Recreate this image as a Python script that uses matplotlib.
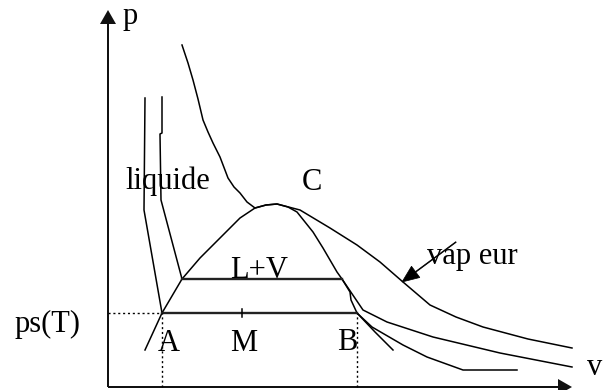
import matplotlib
matplotlib.use("Agg")
import matplotlib.pyplot as plt
import numpy as np

# ---- data (schematic p-v diagram, arbitrary units) ----
dome_v = [37, 54, 74, 92, 112, 132, 147, 158, 169, 180, 189, 205, 215, 229, 234, 242, 243, 249, 267, 285]
dome_p = [37, 74, 108, 129, 149, 169, 179, 182, 183, 180, 175, 155, 139, 115, 108, 95, 87, 74, 55, 37]

t1_liq_v = [37, 36, 54]
t1_liq_p = [289, 177, 74]
t1_vap_v = [249, 264, 295, 319, 355, 409]
t1_vap_p = [74, 60, 42, 30, 17, 17]

t2_liq_v = [54, 54, 52, 53, 74]
t2_liq_p = [290, 254, 253, 187, 108]
t2_vap_v = [234, 255, 279, 325, 392, 464]
t2_vap_p = [108, 77, 65, 50, 34, 20]

tc_v = [74, 80, 85, 90, 95, 100, 105, 112, 120, 126, 132, 139, 147, 158, 169, 192, 222, 249, 272, 295, 322, 348, 375, 420, 464]
tc_p = [342, 324, 307, 288, 267, 255, 244, 230, 209, 200, 194, 185, 179, 182, 183, 177, 159, 142, 125, 105, 82, 70, 60, 48, 39]

ps_T = 74          # saturation pressure
v_A, v_M, v_B = 54, 134, 249
p_L, vL_left, vL_right = 108, 74, 234

labels = {
    "p": (15, 363), "liquide": (17, 198), "C": (194, 197), "L+V": (122, 109),
    "ps(T)": (-93, 55), "A": (50, 36), "M": (122, 36), "B": (229, 37),
    "vap eur": (319, 123), "v": (479, 12),
}

fig = plt.figure(figsize=(6.03, 3.90), dpi=100)
ax = fig.add_axes([0, 0, 1, 1])
ax.set_xlim(-108, 495)
ax.set_ylim(-3, 387)
ax.axis("off")

lw_c = 1.1
ax.plot(dome_v, dome_p, color="black", lw=lw_c)
ax.plot(t1_liq_v, t1_liq_p, color="black", lw=lw_c)
ax.plot(t1_vap_v, t1_vap_p, color="black", lw=lw_c)
ax.plot(t2_liq_v, t2_liq_p, color="black", lw=lw_c)
ax.plot(t2_vap_v, t2_vap_p, color="black", lw=lw_c)
ax.plot(tc_v, tc_p, color="black", lw=lw_c)

# plateaus
ax.plot([v_A, v_B], [ps_T, ps_T], color="#222222", lw=1.7)
ax.plot([vL_left, vL_right], [p_L, p_L], color="#222222", lw=1.7)
# tick at M
ax.plot([v_M, v_M], [ps_T - 4, ps_T + 4], color="black", lw=1.1)

# dotted guides
dot = dict(color="black", lw=1.0, linestyle=(0, (1.5, 2)))
ax.plot([0, v_A], [ps_T, ps_T], **dot)
ax.plot([v_A, v_A], [0, ps_T], **dot)
ax.plot([v_B, v_B], [0, ps_T], **dot)

# axes arrows
ax.arrow(0, 0, 0, 377, width=2, head_width=16, head_length=14,
         length_includes_head=True, fc="#111111", ec="none")
ax.arrow(0, 0, 464, 0, width=2, head_width=16, head_length=14,
         length_includes_head=True, fc="#111111", ec="none")

# vapeur arrow
ax.arrow(348, 145, 294 - 348, 105 - 145, width=0.8, head_width=14, head_length=17,
         length_includes_head=True, fc="black", ec="black", lw=0.5)

fs = 22
for txt, (x, y) in labels.items():
    ax.text(x, y, txt, fontsize=fs, family="Liberation Serif",
            ha="left", va="baseline", color="black")

fig.savefig("out.png", dpi=100)
